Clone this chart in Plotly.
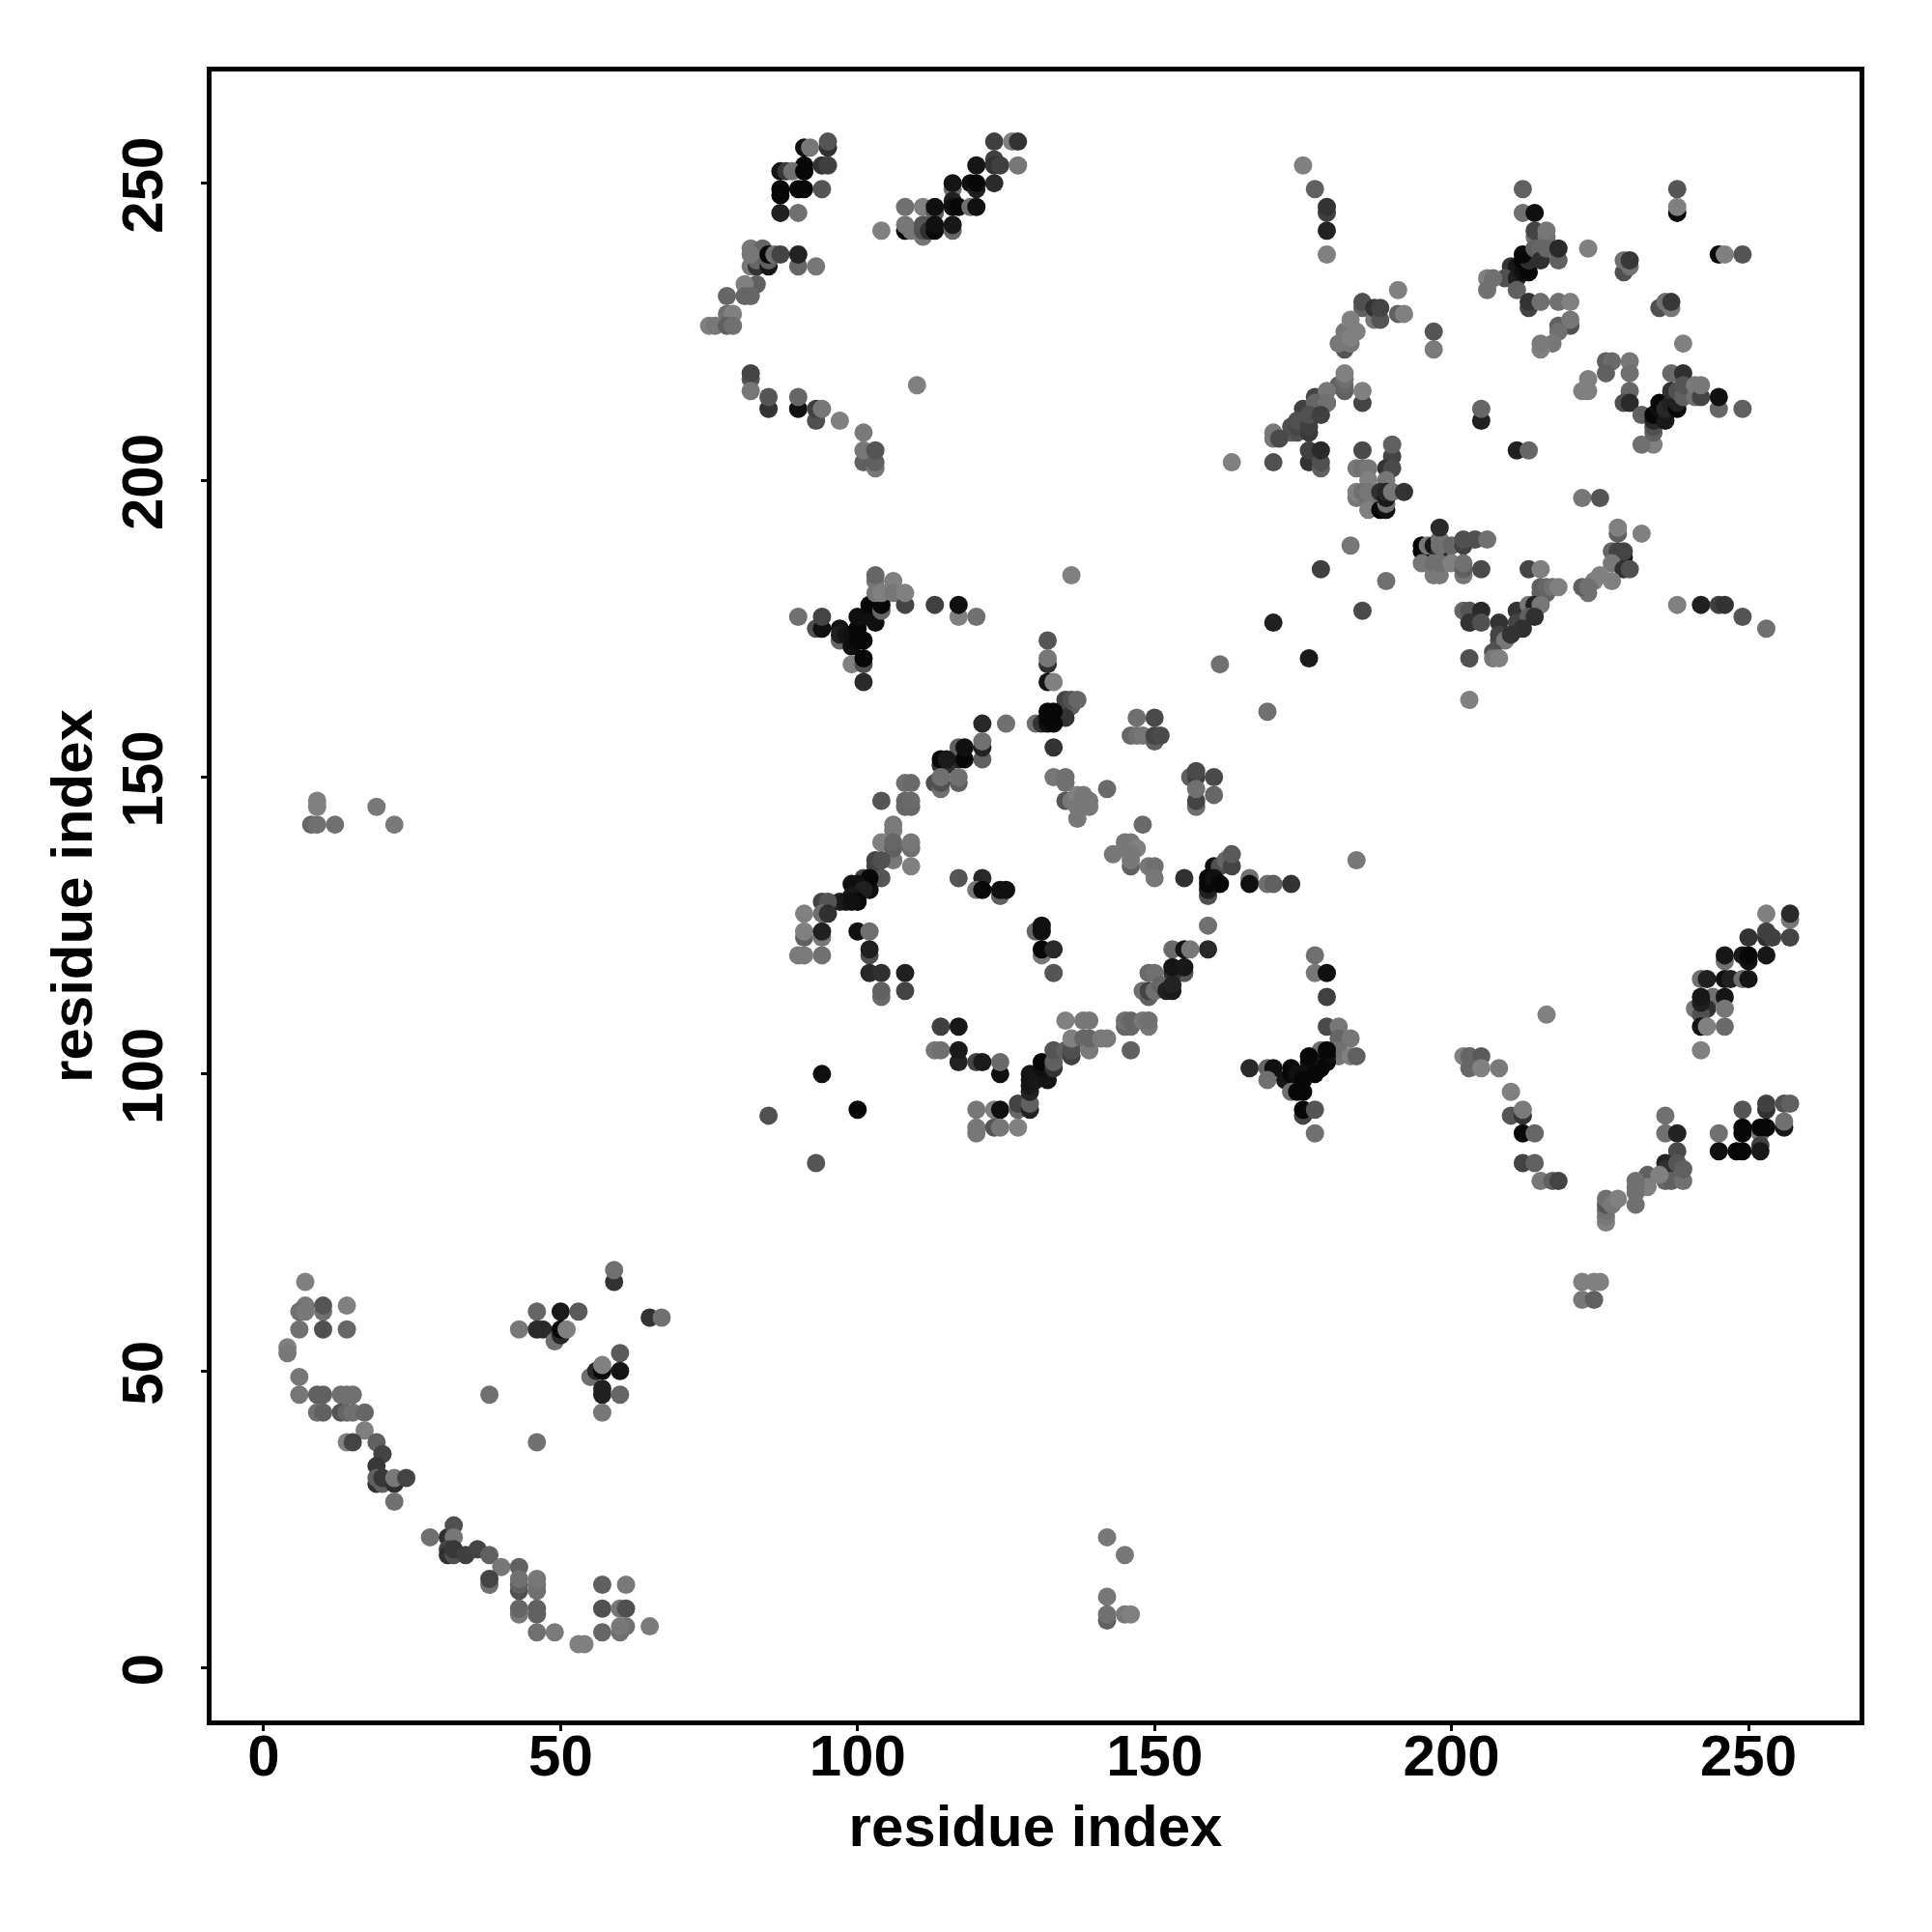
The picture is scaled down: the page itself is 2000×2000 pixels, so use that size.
import plotly.graph_objects as go

tick_values = [0, 50, 100, 150, 200, 250]
axis_title = "residue index"

# each contact: (residue i, residue j, grey level)
lower_left = [
(7,65,0x80),(7,61,0x78),(6,60,0x70),(7,60,0x78),(10,60,0x70),(10,61,0x55),(14,61,0x80),(6,57,0x70),(10,57,0x50),(14,57,0x66),
(4,54,0x80),(4,53,0x78),(6,49,0x77),(6,46,0x77),(9,46,0x60),(10,46,0x60),(13,46,0x70),(14,46,0x70),(15,46,0x70),
(9,43,0x70),(10,43,0x60),(13,43,0x55),(14,43,0x66),(15,43,0x70),(17,43,0x66),(17,40,0x80),(14,38,0x80),(15,38,0x44),(19,38,0x60),
(20,36,0x44),(19,34,0x38),(19,31,0x30),(19,32,0x60),(20,31,0x60),(20,32,0x38),(22,31,0x30),(22,32,0x78),(24,32,0x44),(22,28,0x70),
(28,22,0x70),(31,22,0x30),(32,24,0x50),(32,22,0x77),(31,20,0x44),(31,19,0x30),(32,19,0x50),(32,20,0x38),(34,19,0x40),(36,20,0x44),
(38,19,0x60),(40,17,0x77),(43,17,0x60),(38,14,0x70),(38,15,0x44),(43,13,0x50),(43,14,0x60),(43,15,0x70),(46,13,0x70),(46,14,0x70),(46,15,0x77),
(43,9,0x77),(43,10,0x66),(46,9,0x60),(46,10,0x60),(46,6,0x70),(49,6,0x7a),(53,4,0x80),(54,4,0x80),
(57,14,0x60),(61,14,0x7a),(57,10,0x50),(60,10,0x77),(61,10,0x50),(57,6,0x66),(61,7,0x70),(60,6,0x70),(60,7,0x78),(65,7,0x7a),
(46,60,0x66),(50,60,0x1a),(53,60,0x5a),(43,57,0x77),(46,57,0x2a),(47,57,0x2a),(49,55,0x70),(50,56,0x28),(50,57,0x08),(51,57,0x80),
(59,65,0x33),(59,67,0x70),(65,59,0x33),(67,59,0x70),(38,46,0x70),(46,38,0x70),
(60,53,0x5a),(55,49,0x70),(56,50,0x28),(57,50,0x08),(57,51,0x80),(60,50,0x15),(57,46,0x20),(57,47,0x20),(60,46,0x66),(57,43,0x77),
(142,22,0x77),(145,19,0x78),(142,12,0x77),(142,8,0x60),(142,9,0x70),(145,9,0x77),(146,9,0x80),
(8,142,0x66),(9,142,0x70),(9,145,0x80),(9,146,0x80),(12,142,0x70),(19,145,0x78),(22,142,0x78),
]

top_middle = [
(91,256,0x10),(92,256,0x77),(95,256,0x30),(95,257,0x55),(91,252,0x08),(91,253,0x08),(87,252,0x15),(88,252,0x38),(89,252,0x70),(91,252,0x08),
(94,253,0x33),(95,253,0x40),(87,248,0x08),(87,249,0x08),(90,249,0x08),(91,249,0x08),(94,249,0x55),(87,245,0x20),(90,245,0x70),
(82,239,0x77),(84,239,0x66),(82,236,0x77),(83,236,0x33),(83,237,0x66),(82,238,0x77),(85,236,0x15),(85,237,0x60),(85,238,0x08),(86,238,0x70),(87,238,0x44),
(90,236,0x66),(90,238,0x22),(93,236,0x77),(83,233,0x60),(81,233,0x80),(78,231,0x66),(81,231,0x66),(82,231,0x66),
(78,228,0x70),(79,228,0x80),(75,226,0x80),(76,226,0x78),(78,226,0x60),(79,226,0x70),
(82,217,0x55),(82,218,0x44),(82,215,0x77),(85,212,0x33),(85,214,0x55),(90,212,0x10),(90,214,0x66),(93,210,0x50),(93,212,0x40),(94,212,0x77),
(97,210,0x80),(101,208,0x7a),(101,203,0x60),(101,205,0x77),(103,202,0x77),(103,203,0x60),(103,205,0x55),(110,216,0x80),
(104,242,0x80),(108,246,0x70),(111,246,0x80),(113,245,0x60),(113,246,0x10),(108,242,0x08),(108,243,0x77),(109,242,0x77),(111,241,0x77),(111,242,0x50),(111,243,0x55),
(112,242,0x30),(113,242,0x08),(113,243,0x10),(116,242,0x66),(116,243,0x18),(116,249,0x70),(116,250,0x15),(116,247,0x20),(116,246,0x10),(117,246,0x08),(119,246,0x70),(120,246,0x10),
(119,250,0x10),(120,249,0x20),(120,250,0x08),(120,253,0x15),(123,254,0x40),(123,253,0x33),(124,253,0x40),(123,250,0x2a),(127,253,0x77),
(123,257,0x40),(126,257,0x80),(127,257,0x33),
]

top_right = [
(175,253,0x80),(177,249,0x60),(179,245,0x40),(179,246,0x33),(179,242,0x22),(179,238,0x80),
(212,249,0x60),(212,245,0x70),(214,245,0x10),(214,241,0x70),(214,242,0x44),(216,241,0x70),(216,242,0x77),
(210,236,0x33),(211,236,0x18),(209,234,0x50),(206,234,0x80),(207,234,0x70),(211,234,0x20),(212,235,0x10),(213,235,0x08),(212,237,0x08),(213,237,0x30),(212,238,0x08),
(214,239,0x60),(215,239,0x66),(215,237,0x30),(216,239,0x66),(218,237,0x60),(218,239,0x2a),
(206,232,0x70),(211,232,0x60),(213,229,0x44),(213,230,0x33),(215,230,0x70),(218,230,0x70),(220,230,0x80),
(218,226,0x60),(220,226,0x50),(220,227,0x77),(218,225,0x70),(217,223,0x77),(215,222,0x80),(215,223,0x7a),
(223,239,0x80),(229,235,0x50),(229,237,0x70),(230,236,0x70),(230,237,0x38),
(245,238,0x08),(246,238,0x80),(249,238,0x55),(238,249,0x55),(238,245,0x08),(238,246,0x80),
(235,229,0x50),(236,230,0x70),(237,229,0x77),(237,230,0x38),(239,223,0x80),
(226,220,0x60),(227,220,0x6a),(230,220,0x77),(226,218,0x60),(230,218,0x70),(223,217,0x80),(222,215,0x80),(223,215,0x80),(230,215,0x66),
(229,213,0x50),(230,213,0x2a),(232,211,0x60),(237,218,0x6a),(239,218,0x30),(234,206,0x80),(232,206,0x70),(234,208,0x60),(234,209,0x50),
(234,210,0x28),(234,211,0x08),(235,212,0x10),(235,213,0x08),(236,210,0x18),(236,212,0x28),(237,213,0x20),(237,215,0x30),(238,212,0x08),(238,213,0x20),(238,215,0x50),
(239,214,0x60),(239,216,0x55),(241,214,0x70),(241,216,0x7a),(242,214,0x44),(242,216,0x77),(245,212,0x66),(245,214,0x10),(249,212,0x60),
(191,232,0x80),(185,229,0x60),(185,230,0x50),(187,227,0x78),(187,229,0x33),(188,227,0x55),(188,229,0x44),(191,228,0x60),(192,228,0x80),
(182,222,0x55),(181,223,0x77),(183,223,0x77),(182,225,0x77),(183,224,0x80),(184,225,0x80),(183,227,0x80),(197,222,0x7a),(197,225,0x55),
(181,216,0x60),(182,215,0x60),(182,216,0x66),(182,217,0x70),(182,218,0x80),(177,214,0x44),(179,213,0x33),(179,215,0x77),(185,213,0x44),(185,215,0x80),
(175,212,0x40),(177,213,0x66),(179,213,0x70),(173,208,0x60),(173,209,0x50),(174,208,0x50),(174,209,0x48),(174,210,0x50),(176,208,0x38),(176,209,0x40),(176,211,0x50),(178,211,0x40),
(170,207,0x77),(170,208,0x77),(171,207,0x4a),
(176,203,0x33),(176,205,0x40),(178,202,0x60),(178,203,0x50),(178,205,0x2a),(170,203,0x50),(163,203,0x80),
(185,205,0x4a),(190,204,0x44),(190,206,0x60),(189,202,0x33),(190,202,0x4a),(184,202,0x77),(185,202,0x70),(186,202,0x77),(186,200,0x80),(189,200,0x77),
(184,197,0x78),(184,198,0x80),(185,198,0x70),(186,197,0x70),(186,198,0x77),(186,195,0x80),(188,195,0x08),(188,198,0x30),(189,195,0x10),(189,196,0x70),(189,197,0x18),(189,198,0x28),(190,198,0x77),(192,198,0x33),
(205,210,0x20),(205,212,0x66),(211,205,0x20),(213,205,0x66),(222,197,0x77),(225,197,0x55),
]

upper_band = [
(195,188,0x08),(195,189,0x08),(196,189,0x77),(195,186,0x77),(197,189,0x15),(198,190,0x70),(198,192,0x2a),(198,188,0x30),(198,189,0x70),(200,189,0x66),
(202,189,0x40),(202,190,0x50),(204,190,0x50),(206,190,0x70),(197,184,0x7a),(197,186,0x70),(198,184,0x7a),(198,186,0x70),(200,186,0x80),(202,184,0x77),(202,185,0x60),(202,186,0x70),(205,185,0x4a),
(183,189,0x77),(178,185,0x40),(189,183,0x70),(185,178,0x4a),(170,176,0x20),(176,170,0x1a),(161,169,0x70),(169,161,0x70),(184,136,0x77),
(213,185,0x44),(215,185,0x80),(215,181,0x60),(216,181,0x60),(215,182,0x60),(216,182,0x66),(217,182,0x70),(218,182,0x80),
(211,178,0x33),(213,179,0x77),(214,179,0x20),(215,179,0x77),(211,176,0x44),(213,177,0x60),(214,177,0x30),(212,175,0x30),
(208,176,0x33),(208,173,0x50),(208,174,0x44),(209,173,0x77),(210,174,0x33),(207,171,0x50),(207,170,0x77),(208,170,0x80),
(203,170,0x50),(203,163,0x80),(202,178,0x66),(203,178,0x55),(205,178,0x2a),(203,176,0x33),(205,176,0x50),
(228,191,0x60),(228,192,0x80),(232,191,0x80),(227,188,0x66),(228,188,0x44),(229,187,0x18),(229,188,0x44),(227,186,0x77),(229,185,0x30),(230,185,0x50),
(227,183,0x80),(225,184,0x80),(224,183,0x80),(223,181,0x70),(222,182,0x60),(223,182,0x70),
(238,179,0x80),(242,179,0x20),(245,179,0x40),(246,179,0x33),(249,177,0x55),(253,175,0x70),
]

central_top = [
(90,177,0x70),(93,175,0x50),(94,175,0x10),(94,177,0x44),(97,173,0x66),(97,175,0x15),(97,174,0x20),(98,174,0x15),(99,172,0x10),(99,174,0x10),(100,173,0x08),(100,175,0x08),(100,177,0x10),(101,173,0x08),
(102,177,0x10),(102,179,0x08),(103,176,0x10),(104,178,0x66),(104,179,0x08),(103,183,0x77),(103,184,0x66),(106,183,0x80),(103,181,0x77),(104,181,0x80),(106,181,0x77),(108,179,0x44),(108,181,0x80),
(113,179,0x40),(117,177,0x80),(117,179,0x10),(120,177,0x70),(99,169,0x80),(101,169,0x50),(101,170,0x08),(101,166,0x2a),
(132,173,0x55),(132,169,0x30),(132,170,0x77),(132,166,0x15),(133,166,0x80),(136,184,0x80),
(135,162,0x40),(136,162,0x60),(135,163,0x44),(136,163,0x50),(137,163,0x66),(134,160,0x40),(135,160,0x33),
(130,159,0x70),(131,159,0x33),(132,159,0x10),(132,160,0x08),(132,161,0x08),(133,161,0x08),(133,159,0x08),
(121,159,0x28),(125,159,0x70),(133,155,0x33),(121,153,0x60),(121,155,0x22),(121,156,0x70),(117,153,0x20),(117,155,0x60),(118,153,0x08),(118,155,0x10),
(114,152,0x30),(115,152,0x30),(114,153,0x08),(115,153,0x1a),(113,149,0x50),(114,148,0x70),(114,149,0x50),(114,150,0x70),(117,149,0x60),(117,150,0x70),
(108,149,0x70),(109,149,0x6a),(108,145,0x66),(108,146,0x66),(109,145,0x66),(109,146,0x6a),(104,146,0x55),
(106,141,0x7a),(106,142,0x7a),(104,139,0x80),(106,136,0x77),(106,138,0x60),(106,139,0x66),(109,138,0x70),(109,139,0x77),(109,135,0x80),
(103,135,0x44),(103,136,0x44),(104,136,0x50),(104,133,0x55),(101,133,0x44),(102,131,0x10),(102,133,0x08),(99,132,0x10),(100,132,0x10),(101,131,0x20),(99,130,0x18),(100,129,0x08),
(97,129,0x20),(98,129,0x18),(99,129,0x10),(94,129,0x44),(95,129,0x55),(94,127,0x70),(95,127,0x30),(91,127,0x80),
(147,160,0x70),(150,160,0x4a),(146,157,0x66),(147,157,0x70),(148,157,0x77),(150,156,0x60),(150,157,0x44),(151,157,0x4a),
(133,150,0x77),(135,149,0x70),(135,150,0x70),(142,148,0x6a),(135,146,0x55),(136,146,0x77),(137,147,0x80),(138,147,0x78),(138,146,0x78),(139,146,0x78),(137,145,0x78),(139,145,0x78),(137,143,0x77),
(148,142,0x6a),(143,137,0x77),(145,139,0x77),(146,139,0x78),(145,138,0x78),(147,138,0x80),(146,137,0x78),(146,135,0x60),(146,136,0x78),(149,135,0x77),(150,135,0x70),(150,133,0x77),(155,133,0x30),
(156,150,0x60),(157,150,0x40),(157,151,0x4a),(160,150,0x4a),(157,145,0x70),(157,146,0x44),(157,148,0x70),(160,147,0x66),
(160,135,0x10),(161,135,0x50),(162,136,0x66),(163,135,0x44),(163,137,0x5a),(159,130,0x50),(159,131,0x20),(159,132,0x08),(159,133,0x08),(160,133,0x10),(161,132,0x08),
(166,133,0x70),(166,132,0x10),(169,132,0x70),(170,132,0x60),(173,132,0x33),
]

central_bottom = [
(91,123,0x60),(91,124,0x80),(94,123,0x77),(94,124,0x20),(90,120,0x7a),(91,120,0x7a),(94,120,0x70),
(117,133,0x55),(121,133,0x28),(120,131,0x77),(121,131,0x08),(124,130,0x60),(124,131,0x10),(125,131,0x10),
(100,124,0x10),(102,124,0x70),(102,120,0x50),(102,121,0x20),(102,117,0x28),(104,117,0x30),(108,117,0x20),(104,113,0x6a),(104,114,0x60),(108,114,0x44),
(130,124,0x66),(131,124,0x10),(131,125,0x10),(131,120,0x77),(131,121,0x08),(133,121,0x2a),(133,117,0x55),
(159,125,0x70),(159,121,0x28),(153,121,0x6a),(155,121,0x15),(156,121,0x77),(155,117,0x55),(153,117,0x30),(153,118,0x15),(155,118,0x18),(149,117,0x6a),(150,117,0x70),
(148,114,0x70),(149,113,0x60),(149,114,0x44),(150,114,0x70),(151,115,0x66),(152,114,0x20),(153,114,0x1a),(153,115,0x22),
(114,108,0x40),(117,108,0x18),(113,104,0x77),(114,104,0x70),(117,102,0x22),(117,104,0x1a),(120,102,0x44),(121,102,0x1a),(124,100,0x10),(124,102,0x6a),
(94,100,0x10),(100,94,0x08),(85,93,0x50),(93,85,0x55),
(120,90,0x77),(120,91,0x77),(120,94,0x77),(123,94,0x80),(124,94,0x10),(123,91,0x55),(124,91,0x77),(127,91,0x80),(127,94,0x66),(127,95,0x44),(129,94,0x22),(129,95,0x60),
(129,97,0x22),(129,98,0x18),(129,99,0x15),(129,100,0x15),(130,99,0x18),(132,99,0x15),(131,101,0x10),(131,102,0x08),(133,101,0x33),(133,102,0x60),(133,104,0x55),
(135,104,0x60),(136,103,0x40),(136,104,0x50),(135,109,0x80),(138,109,0x77),(139,109,0x77),(136,106,0x80),(138,106,0x66),(139,104,0x7a),(139,106,0x66),(141,106,0x7a),(142,106,0x7a),(146,104,0x60),
(145,108,0x66),(146,108,0x66),(145,109,0x70),(146,109,0x66),(148,109,0x77),(149,108,0x77),(149,109,0x70),
]

lower_right = [
(177,120,0x70),(177,117,0x77),(179,117,0x10),(179,113,0x40),(179,108,0x4a),(181,108,0x77),(181,106,0x66),(183,106,0x77),(181,103,0x77),(181,104,0x70),(183,103,0x80),(184,103,0x60),
(178,104,0x70),(179,102,0x08),(179,103,0x10),(179,104,0x08),(178,101,0x08),(176,100,0x08),(176,102,0x10),(176,103,0x08),(177,100,0x08),
(166,101,0x2a),(169,101,0x66),(170,101,0x10),(169,99,0x70),(172,99,0x15),(173,100,0x08),(173,101,0x08),(174,99,0x08),(174,100,0x10),(175,99,0x08),
(173,97,0x70),(174,97,0x08),(175,97,0x08),(175,93,0x44),(175,94,0x08),(177,94,0x55),(177,90,0x70),
(202,103,0x80),(203,103,0x66),(205,103,0x5a),(203,101,0x66),(205,101,0x80),(208,101,0x7a),(210,97,0x80),(210,93,0x55),(212,93,0x33),(212,94,0x7a),
(212,90,0x08),(214,90,0x66),(212,85,0x44),(214,85,0x60),(215,82,0x77),(217,82,0x60),(218,82,0x44),(216,110,0x80),
(236,93,0x70),(236,90,0x70),(238,90,0x22),(238,87,0x4a),(236,85,0x22),(236,84,0x30),(238,85,0x55),(236,82,0x66),(237,82,0x60),(239,82,0x70),(239,84,0x60),
(233,83,0x60),(235,83,0x80),(233,81,0x80),(231,78,0x70),(231,80,0x70),(231,81,0x70),(231,82,0x70),
(226,75,0x80),(226,76,0x78),(226,77,0x70),(226,78,0x55),(226,79,0x70),(227,78,0x77),(228,79,0x80),
(222,65,0x80),(224,65,0x80),(225,65,0x80),(222,62,0x78),(224,62,0x60),
(253,127,0x80),(257,126,0x77),(257,127,0x2a),(250,123,0x33),(253,123,0x30),(253,124,0x40),(254,123,0x40),(257,123,0x44),
(246,119,0x70),(246,120,0x18),(249,120,0x1a),(250,119,0x10),(250,120,0x08),(253,120,0x18),
(242,116,0x70),(243,116,0x20),(246,116,0x10),(247,116,0x20),(249,116,0x70),(250,116,0x15),
(244,113,0x70),(241,111,0x77),(243,111,0x30),(242,110,0x50),(242,112,0x20),(242,113,0x18),(246,113,0x15),(246,111,0x77),(242,108,0x10),(243,108,0x80),(246,108,0x6a),(242,104,0x80),
(249,94,0x55),(253,94,0x30),(253,95,0x40),(256,95,0x50),(257,95,0x60),(256,91,0x18),(256,92,0x70),
(249,90,0x08),(249,91,0x08),(252,90,0x77),(252,91,0x08),(253,91,0x08),(245,90,0x70),(245,87,0x10),(248,87,0x08),(249,87,0x08),(252,88,0x40),(252,87,0x18),
]

clusters = [lower_left, top_middle, top_right, upper_band, central_top, central_bottom, lower_right]
points = [p for c in clusters for p in c]
xs = [p[0] for p in points]
ys = [p[1] for p in points]
cols = [f"rgb({p[2]},{p[2]},{p[2]})" for p in points]

fig = go.Figure(go.Scatter(x=xs, y=ys, mode="markers",
                           marker=dict(size=19, color=cols, line=dict(width=0))))

font = dict(family="Liberation Sans", size=60, color="black", weight="bold")
common = dict(tickvals=tick_values, showgrid=False, zeroline=False, showline=True, linecolor="black",
              linewidth=5, mirror=True, ticks="outside", ticklen=6, tickwidth=3, tickcolor="black",
              tickfont=font, title=dict(text=axis_title, font=font))
fig.update_xaxes(range=[-8.78, 268.7], ticklabelstandoff=-26, **common)
fig.update_yaxes(range=[-8.84, 268.81], tickangle=-90, ticklabelshift=11, ticklabelstandoff=16, **common)
fig.update_xaxes(title_standoff=20)
fig.update_yaxes(title_standoff=1)
fig.update_layout(width=2000, height=2000, autosize=False, showlegend=False,
                  margin=dict(l=219, r=75, t=74, b=219, pad=0, autoexpand=False),
                  paper_bgcolor="white", plot_bgcolor="white")
fig.write_html("out.html", config={"displayModeBar": False},
               post_script="document.body.style.margin='0'")
